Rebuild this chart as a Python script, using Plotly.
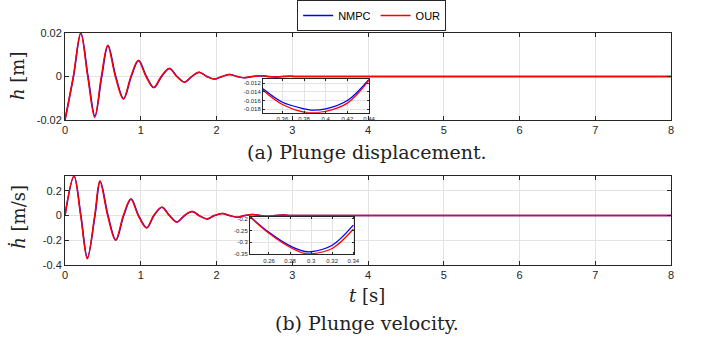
import plotly.graph_objects as go

# ---------------- data ----------------
# plunge displacement h [m]
t_h_our = [0, 0.11, 0.207, 0.30, 0.392, 0.48, 0.563, 0.665, 0.77, 0.87, 0.967, 1.07, 1.17, 1.27,
           1.376, 1.475, 1.574, 1.67, 1.767, 1.87, 1.97, 2.07, 2.17, 2.27, 2.37, 2.47, 2.57, 2.67,
           2.77, 2.87, 2.97, 3.1, 3.5, 4, 5, 6, 7, 8]
h_our = [-0.0200, 0, 0.0200, 0, -0.0188, 0, 0.0143, 0, -0.0103, 0, 0.0074, 0, -0.0051, 0,
         0.0037, 0, -0.0026, 0, 0.0020, 0, -0.0012, 0, 0.0009, 0, -0.0006, 0, 0.0004, 0,
         -0.0002, 0, 0.0001, 0, 0, 0, 0, 0, 0, 0]
t_h_nmpc = [0, 0.112, 0.21, 0.304, 0.396, 0.485, 0.568, 0.67, 0.775, 0.875, 0.972, 1.075, 1.175, 1.275,
            1.381, 1.48, 1.579, 1.675, 1.772, 1.875, 1.975, 2.075, 2.175, 2.275, 2.375, 2.475, 2.575, 2.675,
            2.775, 2.875, 2.975, 3.1, 3.5, 4, 5, 6, 7, 8]
h_nmpc = [-0.0200, 0, 0.0199, 0, -0.0182, 0, 0.0143, 0, -0.0102, 0, 0.0074, 0, -0.0051, 0,
          0.0037, 0, -0.0026, 0, 0.0020, 0, -0.0012, 0, 0.0009, 0, -0.0006, 0, 0.0004, 0,
          -0.0002, 0, 0.0001, 0, 0, 0, 0, 0, 0, 0]

# plunge velocity h_dot [m/s]
t_v_our = [0, 0.118, 0.207, 0.294, 0.392, 0.46, 0.563, 0.667, 0.77, 0.868, 0.967, 1.075, 1.17, 1.276,
           1.376, 1.474, 1.574, 1.675, 1.767, 1.873, 1.97, 2.075, 2.17, 2.27, 2.37, 2.47, 2.57, 2.67,
           2.77, 2.87, 2.97, 3.1, 3.5, 4, 5, 6, 7, 8]
v_our = [0, 0.32, 0, -0.35, 0, 0.28, 0, -0.20, 0, 0.134, 0, -0.100, 0, 0.068, 0, -0.052, 0, 0.033,
         0, -0.028, 0, 0.016, 0, -0.013, 0, 0.009, 0, -0.006, 0, 0.004, 0, 0, 0, 0, 0, 0, 0, 0]
t_v_nmpc = [0, 0.12, 0.21, 0.296, 0.396, 0.465, 0.568, 0.672, 0.775, 0.873, 0.972, 1.08, 1.175, 1.281,
            1.381, 1.479, 1.579, 1.68, 1.772, 1.878, 1.975, 2.08, 2.175, 2.275, 2.375, 2.475, 2.575, 2.675,
            2.775, 2.875, 2.975, 3.1, 3.5, 4, 5, 6, 7, 8]
v_nmpc = [0, 0.318, 0, -0.341, 0, 0.278, 0, -0.198, 0, 0.133, 0, -0.099, 0, 0.068, 0, -0.052, 0, 0.033,
          0, -0.028, 0, 0.016, 0, -0.013, 0, 0.009, 0, -0.006, 0, 0.004, 0, 0, 0, 0, 0, 0, 0, 0]

# zoomed insets
t_in_h = [0.342, 0.36, 0.38, 0.386, 0.40, 0.42, 0.44]
h_in_nmpc = [-0.0133, -0.0164, -0.0179, -0.0182, -0.0179, -0.0160, -0.0111]
h_in_our = [-0.0136, -0.0169, -0.0187, -0.0188, -0.0185, -0.0166, -0.0113]
t_in_v = [0.242, 0.26, 0.28, 0.294, 0.30, 0.32, 0.34]
v_in_nmpc = [-0.190, -0.258, -0.316, -0.340, -0.341, -0.313, -0.227]
v_in_our = [-0.192, -0.262, -0.322, -0.349, -0.350, -0.327, -0.245]

x_ticks = [0, 1, 2, 3, 4, 5, 6, 7, 8]
h_ticks = [-0.02, 0, 0.02]
h_tick_labels = ["-0.02", "0", "0.02"]
v_ticks = [-0.4, -0.2, 0, 0.2]
v_tick_labels = ["-0.4", "-0.2", "0", "0.2"]
in_h_xticks = [0.36, 0.38, 0.40, 0.42, 0.44]
in_h_xlabels = ["0.36", "0.38", "0.4", "0.42", "0.44"]
in_h_yticks = [-0.012, -0.014, -0.016, -0.018]
in_h_ylabels = ["-0.012", "-0.014", "-0.016", "-0.018"]
in_v_xticks = [0.26, 0.28, 0.30, 0.32, 0.34]
in_v_xlabels = ["0.26", "0.28", "0.3", "0.32", "0.34"]
in_v_yticks = [-0.2, -0.25, -0.3, -0.35]
in_v_ylabels = ["-0.2", "-0.25", "-0.3", "-0.35"]

BLUE = "#0000ff"
RED = "#ff0000"
AX = "#262626"
GRID = "#e3e3e3"

fig = go.Figure()

def add(x, y, color, name, xa, ya, legend=False, width=1.5):
    fig.add_trace(go.Scatter(x=x, y=y, mode="lines", name=name, showlegend=legend,
                             line=dict(color=color, width=width, shape="spline", smoothing=1.0),
                             xaxis=xa, yaxis=ya, hoverinfo="skip"))

add(t_h_nmpc, h_nmpc, BLUE, "NMPC", "x", "y", legend=True)
add(t_h_our, h_our, RED, "OUR", "x", "y", legend=True)
add(t_v_nmpc, v_nmpc, BLUE, "NMPC", "x2", "y2")
add(t_v_our, v_our, RED, "OUR", "x2", "y2")
add(t_in_h, h_in_nmpc, BLUE, "NMPC", "x3", "y3", width=1.3)
add(t_in_h, h_in_our, RED, "OUR", "x3", "y3", width=1.3)
add(t_in_v, v_in_nmpc, BLUE, "NMPC", "x4", "y4", width=1.3)
add(t_in_v, v_in_our, RED, "OUR", "x4", "y4", width=1.3)

common = dict(showline=True, linecolor=AX, linewidth=1, mirror="ticks", ticks="inside",
              ticklen=4, tickcolor=AX, showgrid=True, gridcolor=GRID, gridwidth=1,
              zeroline=False, tickfont=dict(family="Liberation Sans, Arial", size=11, color=AX))
inset = dict(common, ticklen=2, tickfont=dict(family="Liberation Sans, Arial", size=6, color=AX))

fig.update_layout(
    width=702, height=340, autosize=False,
    margin=dict(l=65, r=31, t=33, b=75, autoexpand=False),
    paper_bgcolor="white", plot_bgcolor="white",
    showlegend=True,
    legend=dict(orientation="h", x=0.506, xanchor="center", y=1.142, yanchor="top",
                bordercolor=AX, borderwidth=1, bgcolor="white",
                font=dict(family="Liberation Sans, Arial", size=11, color="#000"),
                itemwidth=30, tracegroupgap=0),
    xaxis=dict(common, domain=[0, 1], range=[0, 8], tickvals=x_ticks, anchor="y"),
    yaxis=dict(common, domain=[0.625, 1], range=[-0.02, 0.02], tickvals=h_ticks,
               ticktext=h_tick_labels, anchor="x"),
    xaxis2=dict(common, domain=[0, 1], range=[0, 8], tickvals=x_ticks, anchor="y2"),
    yaxis2=dict(common, domain=[0, 0.3836], range=[-0.4, 0.32], tickvals=v_ticks,
                ticktext=v_tick_labels, anchor="x2"),
    xaxis3=dict(inset, domain=[0.3267, 0.5017], range=[0.342, 0.44], tickvals=in_h_xticks,
                ticktext=in_h_xlabels, anchor="y3"),
    yaxis3=dict(inset, domain=[0.6565, 0.8004], range=[-0.0188, -0.0111], tickvals=in_h_yticks,
                ticktext=in_h_ylabels, anchor="x3"),
    xaxis4=dict(inset, domain=[0.3053, 0.4774], range=[0.242, 0.341], tickvals=in_v_xticks,
                ticktext=in_v_xlabels, anchor="y4"),
    yaxis4=dict(inset, domain=[0.0461, 0.2082], range=[-0.352, -0.191], tickvals=in_v_yticks,
                ticktext=in_v_ylabels, anchor="x4"),
)

# white backgrounds for the insets (drawn in the inset subplots, below their grids)
fig.add_shape(type="rect", xref="x3 domain", yref="y3 domain", x0=0, x1=1, y0=0, y1=1,
              fillcolor="white", line=dict(width=0), layer="below")
fig.add_shape(type="rect", xref="x4 domain", yref="y4 domain", x0=0, x1=1, y0=0, y1=1,
              fillcolor="white", line=dict(width=0), layer="below")

serif = dict(family="DejaVu Serif, serif", color="#222")
fig.add_annotation(text="<i>h</i> [m]", xref="paper", yref="paper", x=-0.0776, y=0.8147,
                   xanchor="center", yanchor="middle",
                   showarrow=False, textangle=-90, font=dict(serif, size=18))
fig.add_annotation(text="<i>ḣ</i> [m/s]", xref="paper", yref="paper", x=-0.0776, y=0.208,
                   xanchor="center", yanchor="middle",
                   showarrow=False, textangle=-90, font=dict(serif, size=18))
fig.add_annotation(text="<i>t</i> [s]", xref="paper", yref="paper", x=0.498, y=-0.1336,
                   xanchor="center", yanchor="middle",
                   showarrow=False, font=dict(serif, size=18))
fig.add_annotation(text="(a) Plunge displacement.", xref="paper", yref="paper", x=0.498, y=0.487,
                   xanchor="center", yanchor="middle",
                   showarrow=False, font=dict(serif, size=19))
fig.add_annotation(text="(b) Plunge velocity.", xref="paper", yref="paper", x=0.498, y=-0.25,
                   xanchor="center", yanchor="middle",
                   showarrow=False, font=dict(serif, size=19))

fig.write_html("out.html")
